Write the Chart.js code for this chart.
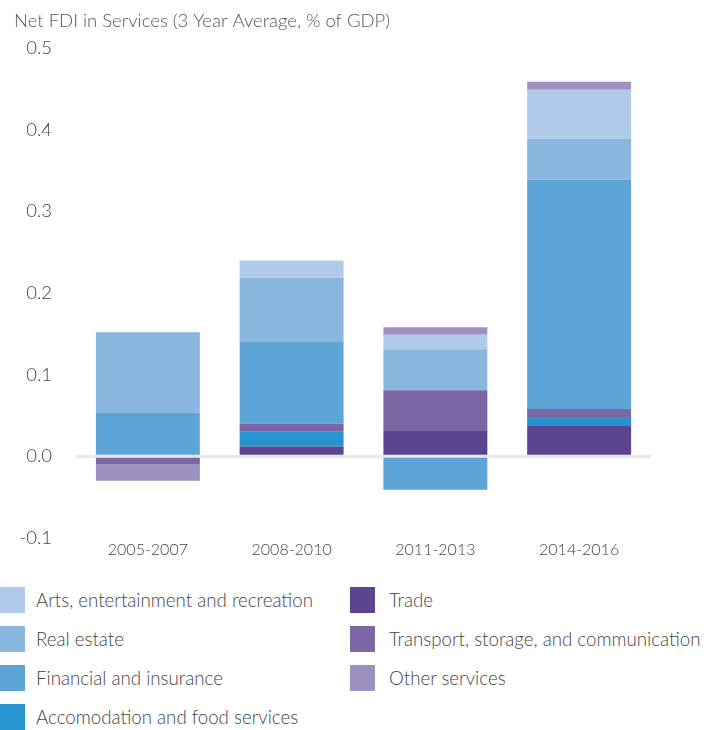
<!DOCTYPE html>
<html>
<head>
<meta charset="utf-8">
<script src="https://cdn.jsdelivr.net/npm/chart.js@4"></script>
<style>
  body { margin: 0; background: #fff; font-family: Lato, "Open Sans", sans-serif; }
  #wrap { position: relative; width: 719px; height: 730px; overflow: hidden; }
  #box { position: absolute; left: 0; top: 0; width: 719px; height: 573px; }
  .item { position: absolute; height: 26px; display: flex; align-items: center;
          font-size: 18.7px; font-weight: 300; color: #444; white-space: nowrap; }
  .item span.sw { display: inline-block; width: 25px; height: 26px; }
</style>
</head>
<body>
<div id="wrap">
  <div id="box"><canvas id="chart"></canvas></div>
  <div id="legend"></div>
</div>
<script>
const categories = ['2005-2007', '2008-2010', '2011-2013', '2014-2016'];

// stacked bottom to top
const trade         = [0,      0.012, 0.032, 0.038];
const accommodation = [0,      0.018, 0,     0.010];
const transport     = [-0.010, 0.010, 0.049, 0.010];
const financial     = [0.053,  0.100, -0.041, 0.281];
const realEstate    = [0.099,  0.079, 0.050, 0.050];
const arts          = [0,      0.021, 0.018, 0.060];
const otherServices = [-0.020, 0,     0.009, 0.010];

const yTicks = [-0.1, 0.0, 0.1, 0.2, 0.3, 0.4, 0.5];

const series = [
  { label: 'Trade', data: trade, color: '#5b4590' },
  { label: 'Accomodation and food services', data: accommodation, color: '#2694cf' },
  { label: 'Transport, storage, and communication', data: transport, color: '#7b67a5' },
  { label: 'Financial and insurance', data: financial, color: '#5da5d7' },
  { label: 'Real estate', data: realEstate, color: '#89b7df' },
  { label: 'Arts, entertainment and recreation', data: arts, color: '#afcbe9' },
  { label: 'Other services', data: otherServices, color: '#9e90c0' }
];

const legendCols = [
  ['Arts, entertainment and recreation', 'Real estate', 'Financial and insurance', 'Accomodation and food services'],
  ['Trade', 'Transport, storage, and communication', 'Other services']
];

const chart = new Chart(document.getElementById('chart'), {
  type: 'bar',
  data: {
    labels: categories,
    datasets: series.map(s => ({
      label: s.label,
      data: s.data,
      backgroundColor: s.color,
      borderWidth: 0,
      barPercentage: 0.723,
      categoryPercentage: 1
    }))
  },
  options: {
    responsive: true,
    maintainAspectRatio: false,
    animation: false,
    layout: { padding: { left: 14, right: 68, top: 0, bottom: 1 } },
    plugins: {
      legend: { display: false },
      tooltip: { enabled: false },
      title: {
        display: true,
        text: 'Net FDI in Services (3 Year Average, % of GDP)',
        align: 'start',
        color: '#555',
        font: { family: 'Lato', size: 18.5, weight: '300', lineHeight: 1.2 },
        padding: { top: 10, bottom: 16 }
      }
    },
    scales: {
      x: {
        stacked: true,
        grid: { display: false, drawTicks: false },
        border: { display: false },
        ticks: { color: '#444', font: { family: 'Lato', size: 16, weight: '300' }, padding: 2 }
      },
      y: {
        stacked: true,
        min: -0.1,
        max: 0.5,
        afterFit: (scale) => { scale.width = 62; },
        afterBuildTicks: (scale) => { scale.ticks = yTicks.map(v => ({ value: v })); },
        border: { display: false },
        grid: {
          drawTicks: false,
          color: (ctx) => (ctx.tick && Math.abs(ctx.tick.value) < 1e-9) ? '#e8e8e8' : 'rgba(0,0,0,0)',
          lineWidth: 3
        },
        ticks: {
          color: '#444',
          padding: 24,
          font: { family: 'Lato', size: 18.5, weight: '300' },
          callback: (v) => Number(v).toFixed(1)
        }
      }
    }
  }
});

// legend built from the chart's datasets
const legend = document.getElementById('legend');
const colX = [[0, 36], [350, 389]];
legendCols.forEach((col, c) => {
  col.forEach((label, r) => {
    const ds = chart.data.datasets.find(d => d.label === label);
    const div = document.createElement('div');
    div.className = 'item';
    div.style.left = colX[c][0] + 'px';
    div.style.top = (587 + r * 39) + 'px';
    const sw = document.createElement('span');
    sw.className = 'sw';
    sw.style.background = ds.backgroundColor;
    sw.style.marginRight = (colX[c][1] - colX[c][0] - 25) + 'px';
    div.appendChild(sw);
    div.appendChild(document.createTextNode(label));
    legend.appendChild(div);
  });
});
</script>
</body>
</html>
